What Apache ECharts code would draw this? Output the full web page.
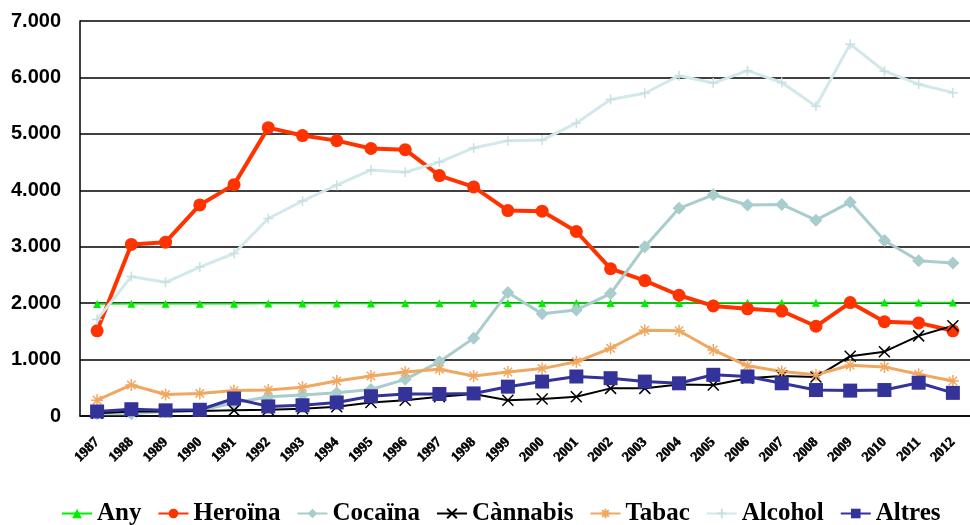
<!DOCTYPE html>
<html><head><meta charset="utf-8">
<script src="https://cdn.jsdelivr.net/npm/echarts@6/dist/echarts.min.js"></script>
<style>html,body{margin:0;padding:0;background:#fff;}#c{width:970px;height:525px;}</style>
</head><body><div id="c"></div>
<script>
const years = ['1987','1988','1989','1990','1991','1992','1993','1994','1995','1996','1997','1998','1999','2000','2001','2002','2003','2004','2005','2006','2007','2008','2009','2010','2011','2012'];
const any = [1987,1988,1989,1990,1991,1992,1993,1994,1995,1996,1997,1998,1999,2000,2001,2002,2003,2004,2005,2006,2007,2008,2009,2010,2011,2012];
const heroina = [1510,3040,3080,3740,4100,5110,4970,4880,4740,4720,4260,4060,3640,3630,3270,2610,2400,2140,1950,1900,1860,1590,2010,1670,1650,1510];
const cocaina = [40,40,80,100,230,340,370,410,470,650,960,1380,2190,1810,1880,2170,3000,3680,3920,3740,3750,3470,3790,3110,2750,2710];
const cannabis = [50,80,80,90,100,110,130,165,240,280,340,390,280,300,340,490,490,560,550,670,710,690,1060,1140,1420,1600];
const tabac = [280,550,380,400,450,460,510,620,710,780,830,710,780,840,960,1200,1520,1510,1170,890,790,730,900,870,740,620];
const alcohol = [1710,2470,2370,2640,2880,3500,3810,4090,4360,4320,4500,4750,4880,4890,5190,5610,5720,6030,5900,6120,5910,5490,6590,6110,5880,5730];
const altres = [80,120,100,110,310,170,190,240,350,390,390,400,520,610,700,670,610,580,730,700,580,460,450,460,590,410];
const yTicks = ['0','1.000','2.000','3.000','4.000','5.000','6.000','7.000'];

const chart = echarts.init(document.getElementById('c'));
const X = 'path://M0,0L10,10M10,0L0,10';
const AST = 'path://M5,0L5,10M0,5L10,5M1.5,1.5L8.5,8.5M8.5,1.5L1.5,8.5';
const PLUS = 'path://M5,0L5,10M0,5L10,5';
function s(name, data, color, width, symbol, size, extra) {
  return Object.assign({
    name, type: 'line', data, symbol, symbolSize: size,
    lineStyle: { color, width },
    itemStyle: { color, borderColor: color, borderWidth: 0 },
    emphasis: { disabled: true }, animation: false
  }, extra || {});
}
chart.setOption({
  animation: false,
  grid: { left: 80, top: 21, height: 395, width: 897 },
  xAxis: {
    type: 'category', data: years, boundaryGap: true,
    axisLine: { lineStyle: { color: '#000', width: 1.5 } },
    axisTick: { show: false },
    axisLabel: { rotate: 45, margin: 24, color: '#000', fontFamily: 'Liberation Serif', fontWeight: 'bold', fontSize: 14,
      textBorderColor: '#000', textBorderWidth: 0.6 }
  },
  yAxis: {
    type: 'value', min: 0, max: 7000, interval: 1000,
    axisLine: { show: true, lineStyle: { color: '#000', width: 1.5 } },
    axisTick: { show: false },
    splitLine: { lineStyle: { color: '#000', width: 1.5 } },
    axisLabel: { margin: 19, color: '#000', fontFamily: 'Liberation Sans', fontWeight: 'bold', fontSize: 20,
      formatter: v => yTicks[Math.round(v / 1000)] }
  },
  legend: {
    left: 56, top: 496, itemWidth: 30, itemHeight: 12, itemGap: 16,
    textStyle: { color: '#000', fontFamily: 'Liberation Serif', fontWeight: 'bold', fontSize: 25 },
    data: ['Any', 'Heroïna', 'Cocaïna', 'Cànnabis', 'Tabac', 'Alcohol', 'Altres']
  },
  series: [
    s('Any', any, '#00ee00', 1.5, 'triangle', 8),
    s('Heroïna', heroina, '#ff3300', 4, 'circle', 13),
    s('Cocaïna', cocaina, '#a9cccc', 3, 'diamond', 13),
    s('Cànnabis', cannabis, '#000000', 2, X, 11, { itemStyle: { color: '#000', borderColor: '#000', borderWidth: 1.5 } }),
    s('Tabac', tabac, '#f0a860', 3, AST, 12, { itemStyle: { color: '#f0a860', borderColor: '#f0a860', borderWidth: 1.5 } }),
    s('Alcohol', alcohol, '#d2e8ea', 3, PLUS, 10, { itemStyle: { color: '#c8e0e2', borderColor: '#c8e0e2', borderWidth: 1.5 } }),
    s('Altres', altres, '#333399', 3, 'rect', 14)
  ]
});
</script></body></html>
